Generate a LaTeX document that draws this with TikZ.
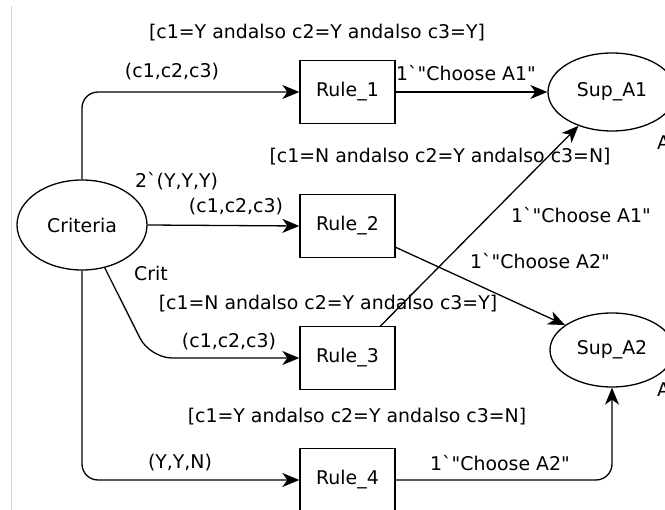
\documentclass[tikz,border=0pt]{standalone}
\usepackage{fontspec}
\setmainfont{DejaVu Sans}[Ligatures=TeXOff]
\usetikzlibrary{arrows.meta,shapes.geometric}
\begin{document}
\begin{tikzpicture}[x=1pt,y=-1pt,
  every node/.style={font=\fontsize{18.9}{22}\selectfont},
  place/.style={draw,ellipse,line width=1.3pt,inner sep=0pt},
  trans/.style={draw,rectangle,line width=1.3pt,minimum width=95pt,minimum height=63pt,inner sep=0pt},
  lbl/.style={inner sep=0pt},
  arc/.style={line width=1.3pt,-{Stealth[length=17pt,width=14pt,inset=5pt]}}]
\useasboundingbox (0,0) rectangle (665,510);
\draw[gray!35,line width=0.8pt] (11,6) -- (11,510);
% places
\node[place,minimum width=130pt,minimum height=90pt] (crit) at (82,225) {Criteria};
\node[place,minimum width=128pt,minimum height=78pt] (sup1) at (612,92) {Sup\_A1};
\node[place,minimum width=124pt,minimum height=74pt] (sup2) at (612,350) {Sup\_A2};
% transitions
\node[trans] (r1) at (347.5,92) {Rule\_1};
\node[trans] (r2) at (347.5,226) {Rule\_2};
\node[trans] (r3) at (347.5,358) {Rule\_3};
\node[trans] (r4) at (347.5,480) {Rule\_4};
% helper coordinates
\coordinate (cbend) at (150,358);
\coordinate (r2out) at (395,247);
\coordinate (r3out) at (380,326.5);
% arcs
\draw[arc,rounded corners=16pt] (crit.north) |- (r1.west);
\draw[arc] (crit.east) -- (r2.west);
\draw[arc,rounded corners=22pt] (crit.-62) -- (cbend) -- (r3.west);
\draw[arc,rounded corners=16pt] (crit.south) |- (r4.west);
\draw[arc] (r1.east) -- (sup1.west);
\draw[arc] (r2out) -- (sup2.152);
\draw[arc] (r3out) -- (sup1);
\draw[arc,rounded corners=16pt] (r4.east) -| (sup2.south);
% labels
\node[lbl] (g1) at (317,33) {[c1=Y andalso c2=Y andalso c3=Y]};
\node[lbl] (e1) at (172,72) {(c1,c2,c3)};
\node[lbl,anchor=west] (o1) at (396,73) {1`"Choose A1"};
\node[lbl] (g2) at (440,157) {[c1=N andalso c2=Y andalso c3=N]};
\node[lbl,anchor=west] (m0) at (135,181) {2`(Y,Y,Y)};
\node[lbl] (e2) at (236,207) {(c1,c2,c3)};
\node[lbl] (o2) at (581,215) {1`"Choose A1"};
\node[lbl,anchor=west] (o3) at (470,261) {1`"Choose A2"};
\node[lbl,anchor=west] (cl) at (134,273) {Crit};
\node[lbl] (g3) at (328,304) {[c1=N andalso c2=Y andalso c3=Y]};
\node[lbl] (e3) at (229,342) {(c1,c2,c3)};
\node[lbl] (g4) at (357,417) {[c1=Y andalso c2=Y andalso c3=N]};
\node[lbl] (e4) at (180,463) {(Y,Y,N)};
\node[lbl] (o4) at (500,463) {1`"Choose A2"};
\node[lbl,anchor=west] (a1) at (657,143) {A};
\node[lbl,anchor=west] (a2) at (657,390) {A};
\end{tikzpicture}
\end{document}
